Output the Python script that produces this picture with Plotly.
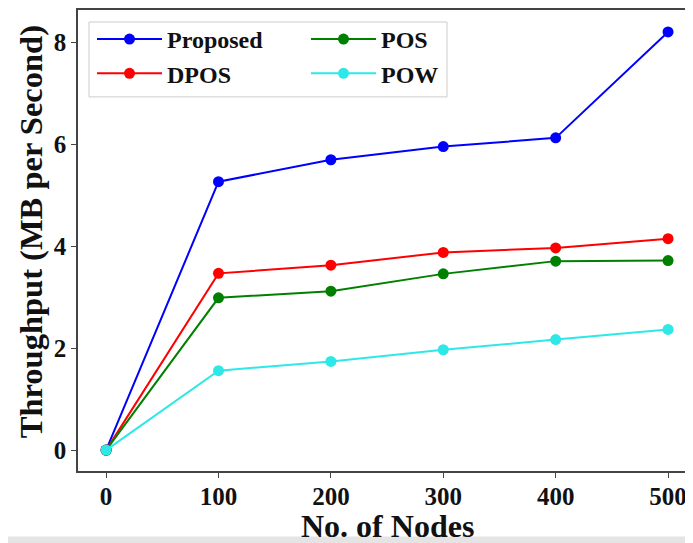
import plotly.graph_objects as go

nodes = [0, 100, 200, 300, 400, 500]
proposed = [0, 5.27, 5.70, 5.96, 6.13, 8.21]
dpos = [0, 3.47, 3.63, 3.88, 3.97, 4.15]
pos = [0, 2.99, 3.12, 3.46, 3.71, 3.72]
pow_ = [0, 1.56, 1.74, 1.97, 2.17, 2.37]

x_ticks = [0, 100, 200, 300, 400, 500]
y_ticks = [0, 2, 4, 6, 8]

series = [
    ("Proposed", proposed, "#0000ff", "legend"),
    ("DPOS", dpos, "#ff0000", "legend"),
    ("POS", pos, "#008000", "legend2"),
    ("POW", pow_, "#2ee8e8", "legend2"),
]

FONT = "Liberation Serif"
# page body has an 8px margin; work in page pixels and convert
OFF = 8
PL, PT, PB = 78, 10, 471.5          # plot area edges on the page
W, H = 693 - OFF, 543 - OFF
PW = 693 - PL
PH = PB - PT


def px(xp):
    return (xp - PL) / PW


def py(yp):
    return 1 - (yp - PT) / PH


fig = go.Figure()
for name, vals, color, leg in series:
    fig.add_trace(go.Scatter(
        x=nodes, y=vals, name=name, mode="lines+markers",
        line=dict(color=color, width=2),
        marker=dict(color=color, size=11),
        legend=leg,
    ))

legend_font = dict(family=FONT, size=24, color="#111111", weight="bold")
common_leg = dict(
    orientation="v", xanchor="left", yanchor="top", itemwidth=65,
    font=legend_font, bgcolor="rgba(0,0,0,0)", borderwidth=0,
    tracegroupgap=0,
)

fig.update_layout(
    width=W, height=H,
    margin=dict(l=PL - OFF, r=0, t=PT - OFF, b=H - (PB - OFF)),
    plot_bgcolor="white", paper_bgcolor="white",
    font=dict(family=FONT, color="#111111"),
    showlegend=True,
    legend=dict(x=px(92), y=py(17), **common_leg),
    legend2=dict(x=px(306), y=py(17), **common_leg),
    xaxis=dict(
        range=[-25, 522.2], tickvals=x_ticks, ticks="outside", ticklen=5,
        tickwidth=1.3, tickcolor="#444444",
        showline=True, linecolor="#444444", linewidth=1.5, mirror=True,
        showgrid=False, zeroline=False, ticklabelstandoff=-3,
        tickfont=dict(family=FONT, size=25, color="#111111", weight="bold"),
    ),
    yaxis=dict(
        range=[-0.41, 8.64], tickvals=y_ticks, ticks="outside", ticklen=5,
        tickwidth=1.3, tickcolor="#444444",
        showline=True, linecolor="#444444", linewidth=1.5, mirror=False,
        showgrid=False, zeroline=False,
        tickfont=dict(family=FONT, size=25, color="#111111", weight="bold"),
    ),
    annotations=[
        dict(text="No. of Nodes", xref="paper", yref="paper",
             x=px(387.5), y=py(526.5),
             xanchor="center", yanchor="middle", showarrow=False,
             font=dict(family=FONT, size=32, color="#111111", weight="bold")),
        dict(text="Throughput (MB per Second)", xref="paper", yref="paper",
             x=px(31), y=py(232.5), textangle=-90,
             xanchor="center", yanchor="middle", showarrow=False,
             font=dict(family=FONT, size=32.5, color="#111111", weight="bold")),
    ],
    shapes=[
        dict(type="rect", xref="paper", yref="paper", layer="below",
             x0=px(89), x1=px(447), y0=py(97), y1=py(22),
             fillcolor="rgba(255,255,255,0.8)", line=dict(color="#cccccc", width=1)),
        dict(type="rect", xref="paper", yref="paper", layer="above",
             x0=px(0), x1=1, y0=py(537), y1=py(545),
             fillcolor="#e4e4e4", line=dict(width=0)),
    ],
)

fig.write_html("out.html")
